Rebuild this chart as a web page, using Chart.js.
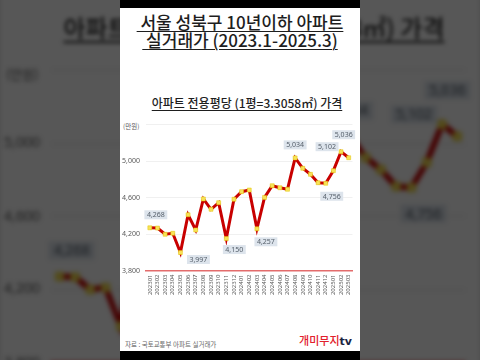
<!DOCTYPE html>
<html><head><meta charset="utf-8">
<script src="https://cdn.jsdelivr.net/npm/chart.js@4.4.1/dist/chart.umd.min.js"></script>
<style>
html,body{margin:0;padding:0;width:480px;height:360px;overflow:hidden;background:#4d4d4d;}
.layer{position:absolute;left:0;top:0;width:480px;height:360px;}
#bg{transform-origin:240px 179px;transform:scale(2);filter:blur(1px) brightness(0.34);}
.panel{position:absolute;left:120px;top:8px;width:240px;height:343px;background:#fff;overflow:hidden;}
.t{position:absolute;left:0;width:240px;text-align:center;white-space:nowrap;font-family:'Noto Sans CJK KR','Noto Sans',sans-serif;color:#1e1e1e;}
.main{font-size:17px;line-height:18px;font-weight:500;text-decoration:underline;text-decoration-thickness:1px;text-underline-offset:2px;}
.ctitle{font-size:12px;line-height:14px;font-weight:500;text-decoration:underline;text-decoration-thickness:1px;text-underline-offset:2px;}
.unit{position:absolute;left:3px;top:114px;font-size:6.5px;line-height:8px;font-family:'Noto Sans CJK KR',sans-serif;color:#595959;}
.src{position:absolute;left:5px;top:332px;font-size:6.5px;line-height:8px;font-family:'Noto Sans CJK KR',sans-serif;color:#666;white-space:nowrap;}
.logo{position:absolute;right:8px;top:325px;font-size:11px;line-height:14px;font-family:'Noto Sans CJK KR',sans-serif;font-weight:500;color:#e2202c;white-space:nowrap;}
.logo b{color:#1b2440;font-family:'DejaVu Sans',sans-serif;font-weight:bold;}
canvas.ch{position:absolute;left:0;top:102px;}
.bar{position:absolute;left:120px;width:240px;background:#000;}
</style></head>
<body>
<div id="bg" class="layer"></div>
<div id="fg" class="layer"></div>
<script>
// ---- data ----
const months = ['202301','202302','202303','202304','202305','202306','202307','202308','202309','202310','202311','202312',
  '202401','202402','202403','202404','202405','202406','202407','202408','202409','202410','202411','202412',
  '202501','202502','202503'];
const prices = [4268,4265,4197,4208,3997,4411,4244,4584,4471,4543,4150,4581,
  4664,4682,4257,4601,4729,4707,4690,5034,4920,4854,4762,4756,
  4894,5102,5036];
const labeledIdx = [0,4,10,14,19,23,25,26];
const yTicks = [3800,4200,4600,5000,5400];
const yTickLabels = ['3,800','4,200','4,600','5,000',''];
const titleLine1 = '\u00a0서울 성북구 10년이하 아파트';
const titleLine2 = '\u00a0실거래가 (2023.1-2025.3)';
const chartTitle = '아파트 전용평당 (1평=3.3058㎡) 가격';
const unitText = '(만원)';
const sourceText = '자료 : 국토교통부 아파트 실거래가';

// ---- styles (label placement relative to point) ----
const labelOffsets = [[6,-13],[18,7],[8,11],[9,13],[0,-13],[6,13],[-14,-5],[-5,-23]];

const labelPlugin = {
  id:'vlabels',
  afterDatasetsDraw(chart){
    const ctx = chart.ctx, meta = chart.getDatasetMeta(0);
    ctx.save();
    ctx.font = '7px "Noto Sans", sans-serif';
    ctx.textAlign = 'center'; ctx.textBaseline = 'middle';
    labeledIdx.forEach((i,k)=>{
      const pt = meta.data[i];
      const [dx,dy] = labelOffsets[k];
      const txt = prices[i].toLocaleString('en-US');
      const w = ctx.measureText(txt).width + 5, h = 9;
      const cx = pt.x + dx, cy = pt.y + dy;
      ctx.fillStyle = '#dde4ec';
      ctx.fillRect(cx - w/2, cy - h/2, w, h);
      ctx.fillStyle = '#56606b';
      ctx.fillText(txt, cx, cy + 0.5);
    });
    ctx.restore();
  }
};

function buildPanel(layer){
  const p = document.createElement('div');
  p.className = 'panel';
  p.innerHTML =
    '<div class="t main" style="top:5px">'+titleLine1+'</div>'+
    '<div class="t main" style="top:23px">'+titleLine2+'</div>'+
    '<div class="t ctitle" style="top:88px;left:7px">'+chartTitle+'</div>'+
    '<div class="unit">'+unitText+'</div>'+
    '<div class="src">'+sourceText+'</div>'+
    '<div class="logo">개미무지<b>tv</b></div>';
  const c = document.createElement('canvas');
  c.className = 'ch'; c.width = 240; c.height = 190;
  p.appendChild(c);
  layer.appendChild(p);
  new Chart(c.getContext('2d'), {
    type:'line',
    data:{labels:months, datasets:[{
      data:prices, borderColor:'#c80000', borderWidth:3, tension:0,
      pointStyle:'rect', pointRadius:2.8, pointBackgroundColor:'#f7e25a',
      pointBorderColor:'#e3c400', pointBorderWidth:0.5
    }]},
    options:{
      responsive:false, animation:false, devicePixelRatio:1,
      layout:{padding:{left:0,right:6,top:14.5,bottom:0}},
      plugins:{legend:{display:false}, tooltip:{enabled:false}},
      scales:{
        x:{ offset:true,
          grid:{display:false, drawTicks:false},
          border:{display:true, color:'#e36c6c', width:1.5},
          ticks:{autoSkip:false, minRotation:90, maxRotation:90, padding:4,
                 font:{size:6, family:'"Noto Sans", sans-serif'}, color:'#595959'},
          afterFit(s){ s.height = 29.5; }
        },
        y:{ min:3800, max:5400,
          afterBuildTicks(s){ s.ticks = yTicks.map(v=>({value:v})); },
          grid:{drawTicks:false, lineWidth:0.8,
                color:(ctx)=> ctx.tick && ctx.tick.value===3800 ? 'rgba(0,0,0,0)' : '#ececec'},
          border:{display:false},
          ticks:{padding:6, font:{size:7, family:'"Noto Sans", sans-serif'}, color:'#595959',
                 callback:(v)=>{ const i = yTicks.indexOf(v); return i>=0 ? yTickLabels[i] : ''; }},
          afterFit(s){ s.width = 26; }
        }
      }
    },
    plugins:[labelPlugin]
  });
}

buildPanel(document.getElementById('bg'));
const fgLayer = document.getElementById('fg');
buildPanel(fgLayer);
const topBar = document.createElement('div'); topBar.className='bar'; topBar.style.top='0px'; topBar.style.height='8px'; fgLayer.appendChild(topBar);
const botBar = document.createElement('div'); botBar.className='bar'; botBar.style.top='351px'; botBar.style.height='9px'; fgLayer.appendChild(botBar);
</script>
</body></html>
